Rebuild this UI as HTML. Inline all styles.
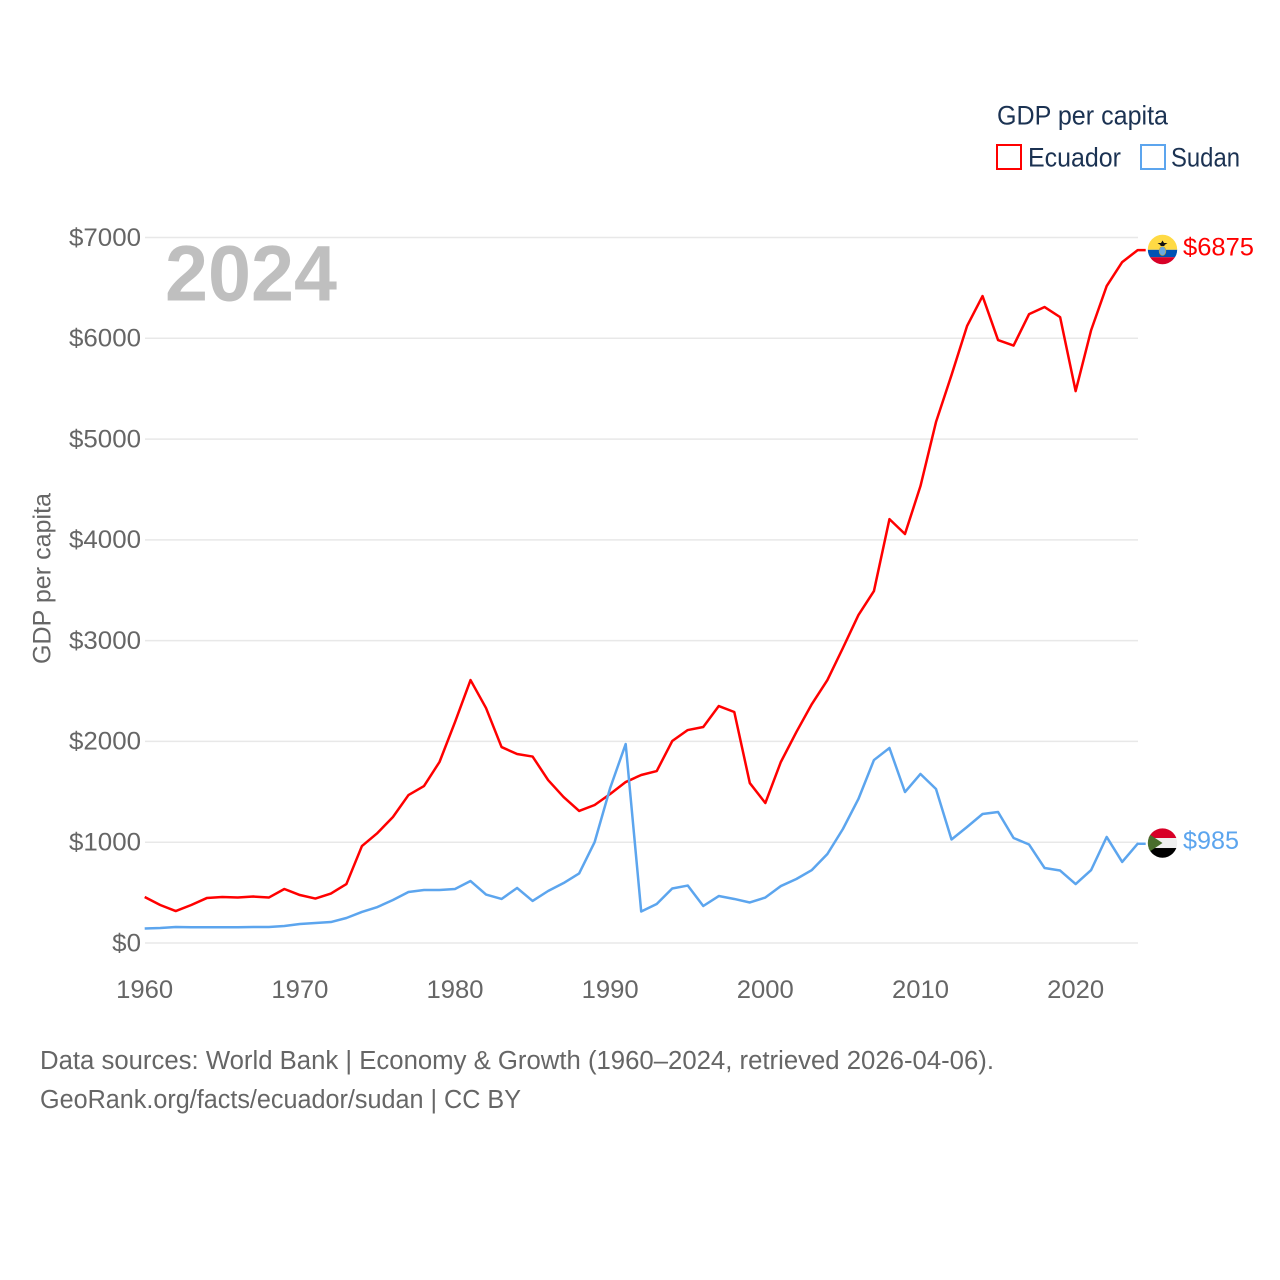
<!DOCTYPE html>
<html lang="en">
<head>
<meta charset="utf-8">
<title>GDP per capita: Ecuador and Sudan</title>
<style>
html,body{margin:0;padding:0;background:#fff;width:1280px;height:1280px;overflow:hidden}
svg{display:block}
text{font-family:"Liberation Sans",sans-serif}
</style>
</head>
<body>
<svg id="chart" xmlns="http://www.w3.org/2000/svg" width="1280" height="1280" viewBox="0 0 1280 1280">
  <defs>
    <clipPath id="flag-clip"><circle cx="0" cy="0" r="14.7"/></clipPath>
  </defs>
  <rect width="1280" height="1280" fill="#fff"/>
  <g id="grid"></g>
  <g id="y-ticks"></g>
  <g id="x-ticks"></g>
  <text transform="translate(50.500,578.5) rotate(-90)" text-anchor="middle" font-size="25" fill="#666" textLength="171" lengthAdjust="spacingAndGlyphs">GDP per capita</text>
  <text x="165" y="300.5" font-size="79" font-weight="bold" fill="#bfbfbf" textLength="172" lengthAdjust="spacingAndGlyphs">2024</text>
  <path id="line-ecuador" fill="none" stroke="#ff0000" stroke-width="2.5" stroke-linejoin="round"/>
  <path id="line-sudan" fill="none" stroke="#5ca5ee" stroke-width="2.5" stroke-linejoin="round"/>

  <g id="flag-ecuador">
    <g clip-path="url(#flag-clip)">
      <rect x="-15" y="-15" width="30" height="15.3" fill="#ffda44"/>
      <rect x="-15" y="0.3" width="30" height="7.4" fill="#0052b4"/>
      <rect x="-15" y="7.7" width="30" height="8" fill="#d80027"/>
      <ellipse cx="0" cy="1.5" rx="3.4" ry="4.5" fill="#6aa8dc" stroke="#c9a227" stroke-width="0.6"/>
      <path d="M-5-6.500h3.500l1.500-2.500l1.500 2.500h3.500l-3 2v1h-4v-1z" fill="#111"/>
    </g>
  </g>
  <g id="flag-sudan">
    <g clip-path="url(#flag-clip)">
      <rect x="-15" y="-15" width="30" height="10" fill="#d80027"/>
      <rect x="-15" y="-5" width="30" height="10" fill="#f0f0f0"/>
      <rect x="-15" y="5" width="30" height="10" fill="#000"/>
      <path d="M-15-10L0 0L-15 10z" fill="#496e2d"/>
    </g>
  </g>
  <text id="value-ecuador" x="1183" font-size="25" fill="#ff0000" textLength="71" lengthAdjust="spacingAndGlyphs"></text>
  <text id="value-sudan" x="1183" font-size="25" fill="#5ca5ee" textLength="56" lengthAdjust="spacingAndGlyphs"></text>

  <g>
    <text x="997" y="124.5" font-size="26.500" fill="#1b3252" textLength="171" lengthAdjust="spacingAndGlyphs">GDP per capita</text>
    <g>
      <rect x="997" y="145" width="24" height="24" fill="none" stroke="#ff0000" stroke-width="2"/>
      <text x="1028" y="166.5" font-size="26.500" fill="#1b3252" textLength="93" lengthAdjust="spacingAndGlyphs">Ecuador</text>
    </g>
    <g>
      <rect x="1141" y="145" width="24" height="24" fill="none" stroke="#5ca5ee" stroke-width="2"/>
      <text x="1171" y="166.5" font-size="26.500" fill="#1b3252" textLength="69" lengthAdjust="spacingAndGlyphs">Sudan</text>
    </g>
  </g>

  <g>
    <text x="40" y="1069" font-size="25.500" fill="#666" textLength="954" lengthAdjust="spacingAndGlyphs">Data sources: World Bank | Economy &amp; Growth (1960–2024, retrieved 2026-04-06).</text>
    <text x="40" y="1108" font-size="25.500" fill="#666" textLength="481" lengthAdjust="spacingAndGlyphs">GeoRank.org/facts/ecuador/sudan | CC BY</text>
  </g>
</svg>
<script>
const firstYear = 1960;
const yTickValues = [0, 1000, 2000, 3000, 4000, 5000, 6000, 7000];
const xTickValues = [1960, 1970, 1980, 1990, 2000, 2010, 2020];
const ecuadorValues = [456, 377, 317, 377, 446, 456, 451, 461, 451, 536,
  476, 441, 491, 585, 962, 1091, 1250, 1468, 1557, 1796,
  2192, 2609, 2331, 1944, 1875, 1850, 1617, 1448, 1310, 1369,
  1478, 1597, 1667, 1706, 2004, 2113, 2143, 2351, 2292, 1587,
  1389, 1796, 2093, 2371, 2609, 2927, 3254, 3492, 4206, 4058,
  4534, 5169, 5635, 6121, 6419, 5982, 5928, 6240, 6310, 6210,
  5476, 6081, 6518, 6756, 6875];
const sudanValues = [144, 149, 159, 156, 156, 156, 156, 159, 159, 169,
  188, 198, 208, 248, 308, 357, 427, 506, 526, 526,
  536, 615, 481, 437, 546, 417, 516, 595, 690, 1002,
  1538, 1974, 313, 387, 541, 570, 367, 466, 437, 402,
  451, 565, 635, 724, 883, 1131, 1429, 1815, 1935, 1498,
  1677, 1528, 1027, 1151, 1280, 1300, 1042, 977, 744, 719,
  585, 724, 1052, 804, 985];

const NS = 'http://www.w3.org/2000/svg';
function xScale(year) { return 144.7 + (year - 1960) * (1137.7 - 144.7) / 64; }
function yScale(value) { return 943 - value * (943 - 237.5) / 7000; }
function money(value) { return '$' + value; }

function linePath(values) {
  let d = '';
  values.forEach(function (v, i) {
    d += (i ? 'L' : 'M') + xScale(firstYear + i).toFixed(2) + ' ' + yScale(v).toFixed(2);
  });
  const last = values[values.length - 1];
  d += 'L' + (xScale(firstYear + values.length - 1) + 8).toFixed(2) + ' ' + yScale(last).toFixed(2);
  return d;
}

const gridGroup = document.getElementById('grid');
const yGroup = document.getElementById('y-ticks');
const xGroup = document.getElementById('x-ticks');

yTickValues.forEach(function (v) {
  const line = document.createElementNS(NS, 'line');
  
  
  line.setAttribute('x1', 145);
  line.setAttribute('x2', 1138);
  line.setAttribute('y1', yScale(v));
  line.setAttribute('y2', yScale(v));
  line.setAttribute('stroke', '#e8e8e8');
  line.setAttribute('stroke-width', '1.500');
  gridGroup.appendChild(line);

  const label = document.createElementNS(NS, 'text');
  
  
  const str = money(v);
  label.textContent = str;
  label.setAttribute('x', 141);
  label.setAttribute('y', yScale(v) + 8.3);
  label.setAttribute('text-anchor', 'end');
  label.setAttribute('font-size', '25');
  label.setAttribute('fill', '#666');
  label.setAttribute('textLength', str.length * 14.4);
  label.setAttribute('lengthAdjust', 'spacingAndGlyphs');
  yGroup.appendChild(label);
});

xTickValues.forEach(function (year) {
  const label = document.createElementNS(NS, 'text');
  
  
  label.textContent = String(year);
  label.setAttribute('x', xScale(year));
  label.setAttribute('y', 998);
  label.setAttribute('text-anchor', 'middle');
  label.setAttribute('font-size', '25');
  label.setAttribute('fill', '#666');
  label.setAttribute('textLength', '57');
  label.setAttribute('lengthAdjust', 'spacingAndGlyphs');
  xGroup.appendChild(label);
});

document.getElementById('line-ecuador').setAttribute('d', linePath(ecuadorValues));
document.getElementById('line-sudan').setAttribute('d', linePath(sudanValues));

const ecuadorLast = ecuadorValues[ecuadorValues.length - 1];
const sudanLast = sudanValues[sudanValues.length - 1];
document.getElementById('flag-ecuador').setAttribute('transform', 'translate(1162.5,' + (yScale(ecuadorLast) - 0.6) + ')');
document.getElementById('flag-sudan').setAttribute('transform', 'translate(1162.5,' + (yScale(sudanLast) - 0.7) + ')');
const valueEcuador = document.getElementById('value-ecuador');
valueEcuador.textContent = money(ecuadorLast);
valueEcuador.setAttribute('y', yScale(ecuadorLast) + 5.5);
const valueSudan = document.getElementById('value-sudan');
valueSudan.textContent = money(sudanLast);
valueSudan.setAttribute('y', yScale(sudanLast) + 5.5);
</script>
</body>
</html>
